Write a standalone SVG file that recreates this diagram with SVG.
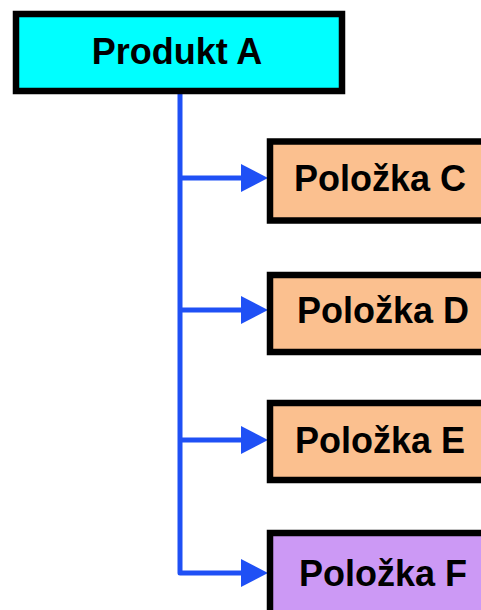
<svg xmlns="http://www.w3.org/2000/svg" width="481" height="610" viewBox="0 0 481 610">
<style>
.box{stroke:#000;stroke-width:6.5}
.lbl{font-family:"Liberation Sans",Arial,sans-serif;font-weight:bold;font-size:36px;fill:#000;text-anchor:middle}
.con{fill:none;stroke:#1f50f5;stroke-width:5;stroke-linejoin:round}
</style>
<defs>
<marker id="ah" markerUnits="userSpaceOnUse" markerWidth="27" markerHeight="28" viewBox="0 0 27 28" refX="9" refY="14" orient="auto">
<path d="M0,0 L27,14 L0,28 Z" fill="#1f50f5"/>
</marker>
</defs>
<g id="connectors">
<path class="con" d="M180 93 V573 H250" marker-end="url(#ah)"/>
<path class="con" d="M180 178 H250" marker-end="url(#ah)"/>
<path class="con" d="M180 310 H250" marker-end="url(#ah)"/>
<path class="con" d="M180 440 H250" marker-end="url(#ah)"/>
</g>
<g id="produktA">
<rect class="box" x="16" y="14" width="326" height="77" fill="#00ffff"/>
<text class="lbl" x="177" y="64">Produkt A</text>
</g>
<g id="polozkaC">
<rect class="box" x="270" y="141.5" width="230" height="79" fill="#fbc08f"/>
<text class="lbl" x="380" y="191">Položka C</text>
</g>
<g id="polozkaD">
<rect class="box" x="270" y="275" width="230" height="77" fill="#fbc08f"/>
<text class="lbl" x="383" y="323">Položka D</text>
</g>
<g id="polozkaE">
<rect class="box" x="270" y="403" width="230" height="77" fill="#fbc08f"/>
<text class="lbl" x="380" y="453">Položka E</text>
</g>
<g id="polozkaF">
<rect class="box" x="270" y="533" width="230" height="100" fill="#cc99f5"/>
<text class="lbl" x="383" y="586">Položka F</text>
</g>
</svg>
